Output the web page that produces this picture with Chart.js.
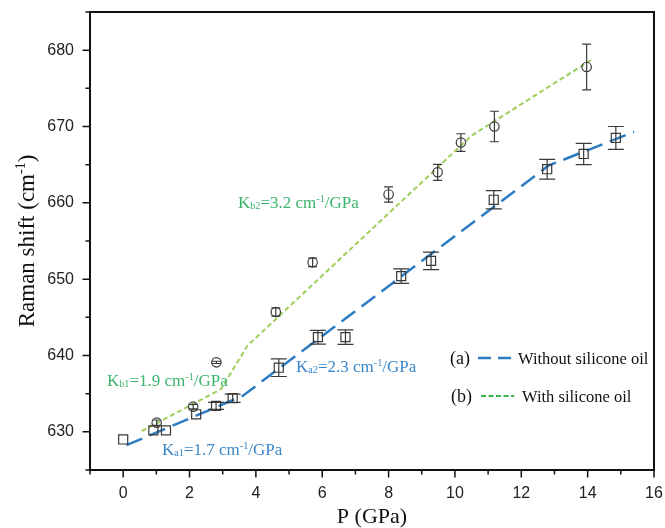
<!DOCTYPE html>
<html>
<head>
<meta charset="utf-8">
<script src="https://cdn.jsdelivr.net/npm/chart.js@4.4.1/dist/chart.umd.min.js"></script>
<style>
  html, body { margin: 0; padding: 0; background: #fff; }
  canvas { display: block; }
</style>
</head>
<body>
<canvas id="chart" width="665" height="528"></canvas>
<script>
// (a) without silicone oil - squares
const pressureA = [0.0, 0.91, 1.29, 2.2, 2.8, 3.3, 4.69, 5.87, 6.7, 8.38, 9.28, 11.17, 12.78, 13.88, 14.85];
const shiftA = [629.0, 630.2, 630.2, 632.3, 633.4, 634.4, 638.4, 642.4, 642.4, 650.4, 652.4, 660.4, 664.4, 666.4, 668.5];
const errA = [0, 0, 0, 0, 0.45, 0.55, 1.15, 0.9, 0.95, 0.95, 1.15, 1.2, 1.3, 1.4, 1.5];

// (b) with silicone oil - circles
const pressureB = [1.01, 2.11, 2.81, 4.6, 5.71, 8.0, 9.48, 10.18, 11.19, 13.97];
const shiftB = [631.2, 633.3, 639.1, 645.7, 652.2, 661.1, 664.0, 667.9, 670.0, 677.8];
const errB = [0.35, 0.3, 0.15, 0.55, 0.55, 1.0, 1.05, 1.15, 2.0, 3.0];

// piecewise fit lines
const fitPressureA = [0.1, 3.6, 12.83, 15.4];
const fitShiftA = [628.25, 634.7, 664.9, 669.3];
const fitPressureB = [0.56, 2.95, 3.75, 10.5, 14.1];
const fitShiftB = [630.1, 635.6, 641.3, 668.8, 678.7];

const xTickLabels = [0, 2, 4, 6, 8, 10, 12, 14, 16];
const xMinorTicks = [-1, 1, 3, 5, 7, 9, 11, 13, 15];
const yTickLabels = [630, 640, 650, 660, 670, 680];
const yMinorTicks = [625, 635, 645, 655, 665, 675, 685];

const BLUE = "#2b7cc3";
const BLUE_TEXT = "#3a87c9";
const GREEN = "#9fce5a";
const GREEN_TEXT = "#3bb36a";
const MARK = "#3a3a3a";
const SERIF = "'Liberation Serif', 'Times New Roman', serif";
const SANS = "'Liberation Sans', Arial, sans-serif";

const toPoints = (xs, ys) => xs.map((x, i) => ({ x: x, y: ys[i] }));

// draws text runs with subscripts / superscripts, left aligned on baseline
function drawRich(ctx, x, y, parts, size, color) {
  ctx.fillStyle = color;
  ctx.textAlign = "left";
  ctx.textBaseline = "alphabetic";
  let cx = x;
  parts.forEach(([txt, mode]) => {
    let s = size, dy = 0;
    if (mode === "sub") { s = size * 0.6; dy = size * 0.05; }
    if (mode === "sup") { s = size * 0.6; dy = -size * 0.38; }
    ctx.font = s + "px " + SERIF;
    ctx.fillText(txt, cx, y + dy);
    cx += ctx.measureText(txt).width;
  });
}

const decorations = {
  id: "decorations",
  beforeDatasetsDraw(chart) {
    const { ctx, chartArea: a, scales: { x, y } } = chart;
    ctx.save();
    // frame
    ctx.strokeStyle = "#111";
    ctx.lineWidth = 2;
    ctx.strokeRect(a.left, a.top, a.right - a.left, a.bottom - a.top);
    // tick marks (outside)
    ctx.lineWidth = 1.5;
    ctx.beginPath();
    xTickLabels.forEach((v) => { const px = x.getPixelForValue(v); ctx.moveTo(px, a.bottom); ctx.lineTo(px, a.bottom + 7.5); });
    xMinorTicks.forEach((v) => { const px = x.getPixelForValue(v); ctx.moveTo(px, a.bottom); ctx.lineTo(px, a.bottom + 4.5); });
    yTickLabels.forEach((v) => { const py = y.getPixelForValue(v); ctx.moveTo(a.left, py); ctx.lineTo(a.left - 7.5, py); });
    yMinorTicks.forEach((v) => { const py = y.getPixelForValue(v); ctx.moveTo(a.left, py); ctx.lineTo(a.left - 4.5, py); });
    ctx.stroke();
    ctx.restore();
  },
  afterDatasetsDraw(chart) {
    const { ctx, chartArea: a, scales: { x, y } } = chart;
    ctx.save();
    // error bars
    ctx.strokeStyle = MARK;
    ctx.lineWidth = 1.2;
    const bars = (xs, ys, es, cap) => {
      xs.forEach((p, i) => {
        if (!es[i]) return;
        const px = x.getPixelForValue(p);
        const top = y.getPixelForValue(ys[i] + es[i]);
        const bot = y.getPixelForValue(ys[i] - es[i]);
        ctx.beginPath();
        ctx.moveTo(px, top); ctx.lineTo(px, bot);
        ctx.moveTo(px - cap, top); ctx.lineTo(px + cap, top);
        ctx.moveTo(px - cap, bot); ctx.lineTo(px + cap, bot);
        ctx.stroke();
      });
    };
    bars(pressureA, shiftA, errA, 8);
    bars(pressureB, shiftB, errB, 4.5);

    // axis titles
    ctx.fillStyle = "#111";
    ctx.font = "22px " + SERIF;
    ctx.textAlign = "center";
    ctx.textBaseline = "alphabetic";
    ctx.fillText("P (GPa)", (a.left + a.right) / 2, 523);
    ctx.save();
    ctx.translate(34, (a.top + a.bottom) / 2);
    ctx.rotate(-Math.PI / 2);
    ctx.font = "23px " + SERIF;
    const t1 = "Raman shift (cm";
    const w1 = ctx.measureText(t1).width;
    ctx.font = "14px " + SERIF;
    const w2 = ctx.measureText("-1").width;
    ctx.font = "23px " + SERIF;
    const w3 = ctx.measureText(")").width;
    const start = -(w1 + w2 + w3) / 2;
    ctx.textAlign = "left";
    ctx.fillText(t1, start, 0);
    ctx.font = "14px " + SERIF;
    ctx.fillText("-1", start + w1, -9);
    ctx.font = "23px " + SERIF;
    ctx.fillText(")", start + w1 + w2, 0);
    ctx.restore();

    // slope annotations
    drawRich(ctx, 238, 208, [["K"], ["b2", "sub"], ["=3.2 cm"], ["-1", "sup"], ["/GPa"]], 17, GREEN_TEXT);
    drawRich(ctx, 107, 386, [["K"], ["b1", "sub"], ["=1.9 cm"], ["-1", "sup"], ["/GPa"]], 17, GREEN_TEXT);
    drawRich(ctx, 296, 372, [["K"], ["a2", "sub"], ["=2.3 cm"], ["-1", "sup"], ["/GPa"]], 17, BLUE_TEXT);
    drawRich(ctx, 162, 455, [["K"], ["a1", "sub"], ["=1.7 cm"], ["-1", "sup"], ["/GPa"]], 17, BLUE_TEXT);

    // legend
    ctx.fillStyle = "#111";
    ctx.font = "18px " + SERIF;
    ctx.textAlign = "left";
    ctx.fillText("(a)", 450, 364);
    ctx.fillText("(b)", 451, 402);
    ctx.font = "16.5px " + SERIF;
    ctx.fillText("Without silicone oil", 518, 364);
    ctx.fillText("With silicone oil", 522, 402);
    ctx.lineWidth = 2.5;
    ctx.strokeStyle = BLUE;
    ctx.setLineDash([13, 7]);
    ctx.beginPath(); ctx.moveTo(478, 358); ctx.lineTo(512, 358); ctx.stroke();
    ctx.lineWidth = 1.8;
    ctx.strokeStyle = "#3cb44a";
    ctx.setLineDash([5, 2.5]);
    ctx.beginPath(); ctx.moveTo(481, 396); ctx.lineTo(514, 396); ctx.stroke();
    ctx.restore();
  },
};

const canvas = document.getElementById("chart");
new Chart(canvas.getContext("2d"), {
  type: "scatter",
  data: {
    datasets: [
      {
        label: "Fit a",
        type: "line",
        data: toPoints(fitPressureA, fitShiftA),
        borderColor: BLUE,
        borderWidth: 2.5,
        borderDash: [17, 8],
        pointRadius: 0,
        fill: false,
        tension: 0,
        order: 4,
      },
      {
        label: "Fit b",
        type: "line",
        data: toPoints(fitPressureB, fitShiftB),
        borderColor: GREEN,
        borderWidth: 2,
        borderDash: [5, 3],
        pointRadius: 0,
        fill: false,
        tension: 0,
        order: 3,
      },
      {
        label: "Without silicone oil",
        data: toPoints(pressureA, shiftA),
        pointStyle: "rect",
        pointRadius: 6.4,
        borderColor: MARK,
        borderWidth: 1.2,
        backgroundColor: "rgba(255,255,255,0)",
        order: 1,
      },
      {
        label: "With silicone oil",
        data: toPoints(pressureB, shiftB),
        pointStyle: "circle",
        pointRadius: 4.7,
        borderColor: MARK,
        borderWidth: 1.2,
        backgroundColor: "rgba(255,255,255,0)",
        order: 2,
      },
    ],
  },
  options: {
    responsive: false,
    animation: false,
    devicePixelRatio: 1,
    layout: { padding: { left: 0, right: 11, top: 12, bottom: 0 } },
    plugins: { legend: { display: false }, tooltip: { enabled: false } },
    scales: {
      x: {
        type: "linear",
        min: -1,
        max: 16,
        grid: { display: false, drawTicks: false },
        border: { display: false },
        ticks: { font: { family: SANS, size: 16 }, color: "#222", padding: 14, maxRotation: 0, autoSkip: false },
        afterBuildTicks: (s) => { s.ticks = xTickLabels.map((v) => ({ value: v })); },
        afterFit: (s) => { s.height = 58; s.paddingLeft = 0; s.paddingRight = 0; },
      },
      y: {
        type: "linear",
        min: 625,
        max: 685,
        grid: { display: false, drawTicks: false },
        border: { display: false },
        ticks: { font: { family: SANS, size: 16 }, color: "#222", padding: 16, autoSkip: false },
        afterBuildTicks: (s) => { s.ticks = yTickLabels.map((v) => ({ value: v })); },
        afterFit: (s) => { s.width = 90; s.paddingTop = 0; s.paddingBottom = 0; },
      },
    },
  },
  plugins: [decorations],
});
</script>
</body>
</html>
